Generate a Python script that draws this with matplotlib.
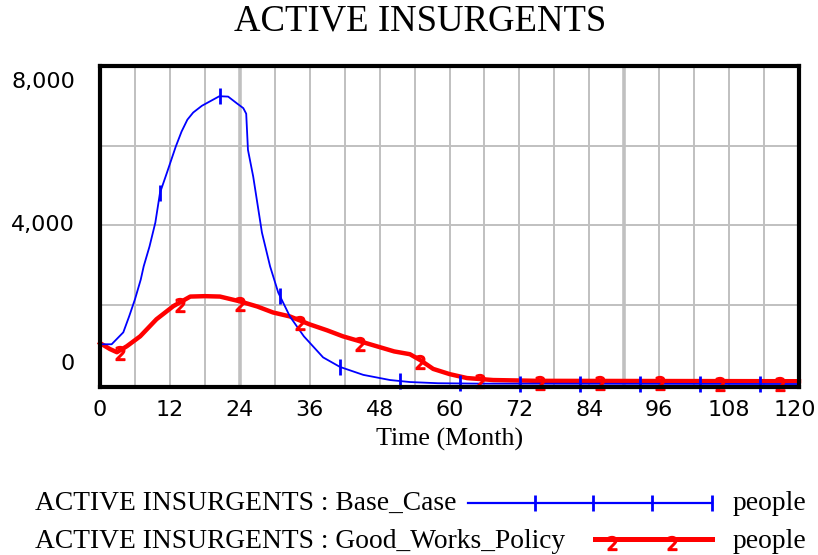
import numpy as np
import matplotlib.pyplot as plt
from matplotlib.lines import Line2D
from matplotlib.transforms import offset_copy, blended_transform_factory

# ACTIVE INSURGENTS : Base_Case (people)
t_base = [0, 2, 4, 5, 6, 7, 7.5, 8.5, 9.5, 10.3, 11.5, 13, 14, 15, 16, 17.5, 19,
          20.5, 22, 23.5, 24.6, 25.1, 25.4, 26.3, 27.8, 29.2, 30.6, 32.6, 35, 38.3,
          41.2, 45.2, 49.8, 53.2, 58, 65, 120]
v_base = [1000, 1000, 1300, 1700, 2130, 2630, 2960, 3460, 4060, 4810, 5320, 5970,
          6350, 6650, 6830, 7000, 7120, 7240, 7230, 7060, 6940, 6800, 5890, 5220,
          3810, 2960, 2300, 1700, 1200, 670, 430, 230, 100, 50, 20, 10, 0]

# ACTIVE INSURGENTS : Good_Works_Policy (people)
t_good = [0, 1.7, 2.9, 4.6, 6.9, 9.7, 12.6, 15.5, 18, 20.6, 24, 27, 29.7, 32.6,
          36, 39, 41.7, 44.5, 47.5, 50.5, 53.2, 55, 57.2, 60, 63, 67.5, 75, 120]
v_good = [1030, 880, 800, 950, 1200, 1630, 1960, 2200, 2210, 2200, 2080, 1950,
          1800, 1700, 1500, 1350, 1200, 1080, 950, 820, 750, 600, 380, 250, 150,
          100, 80, 70]

x_ticks = [0, 12, 24, 36, 48, 60, 72, 84, 96, 108, 120]
y_ticks = [0, 4000, 8000]
y_labels = ['0', '4,000', '8,000']

W, H = 818, 555
fig = plt.figure(figsize=(W / 100, H / 100), dpi=100)
ax = fig.add_axes([100 / W, (H - 387) / H, 699 / W, (387 - 66) / H])

blue = '#0000FF'
red = '#FF0000'
grey = '#C0C0C0'

ax.set_xlim(0, 120)
ax.set_ylim(-75, 8000)

# grid
for gx in np.arange(6, 120, 6):
    lw = 2.6 if gx in (24, 90) else 1.4
    ax.axvline(gx, color=grey, lw=lw, zorder=1)
for gy in [2000, 4000, 6000]:
    ax.axhline(gy, color=grey, lw=1.4, zorder=1)

ax.plot(t_base, v_base, color=blue, lw=1.3, zorder=3, clip_on=False)
ax.plot(t_good, v_good, color=red, lw=3.2, zorder=2, clip_on=False)

# series markers every ~10.3 months, as in the original
mk_b = np.arange(0, 120, 10.3)
ax.plot(mk_b, np.interp(mk_b, t_base, v_base), ls='none', marker='|', ms=12,
        mew=2, color=blue, zorder=4, clip_on=False)
mk_g = np.arange(3.4, 120, 10.3)
ax.plot(mk_g, np.interp(mk_g, t_good, v_good) - 60, ls='none', marker='$2$', ms=10,
        color=red, zorder=4, clip_on=False)

for s in ax.spines.values():
    s.set_linewidth(3)
    s.set_color('black')
    s.set_zorder(5)

ax.set_xticks(x_ticks)
ax.set_xticklabels([str(v) for v in x_ticks[:-1]] + [''], fontsize=16,
                   family='DejaVu Sans')
ax.tick_params(axis='x', length=0, pad=9)
ax.set_yticks([])

# last x label sits against the right edge of the picture
xt = blended_transform_factory(ax.transData, ax.transAxes)
ax.text(x_ticks[-1], 0, str(x_ticks[-1]), ha='right', va='top', fontsize=16,
        family='DejaVu Sans',
        transform=offset_copy(xt, fig=fig, x=17, y=-13, units='dots'))

trans = blended_transform_factory(ax.transAxes, ax.transData)
offs = {0: 10, 4000: 0, 8000: -6}
vas = {0: 'bottom', 4000: 'center', 8000: 'top'}
for val, lab in zip(y_ticks, y_labels):
    ax.text(0, val, lab, ha='right', va=vas[val], fontsize=16, family='DejaVu Sans',
            transform=offset_copy(trans, fig=fig, x=-25, y=offs[val], units='dots'))

ax.set_xlabel('Time (Month)', fontsize=18.7, family='Liberation Serif', labelpad=6)

fig.text(420 / W, 1 - 21 / H, 'ACTIVE INSURGENTS', ha='center', va='center',
         fontsize=26.5, family='Liberation Serif')

# legend
def fx(x):
    return x / W

def fy(y):
    return 1 - y / H

fs_leg = 19.8
fig.text(fx(35), fy(503), 'ACTIVE INSURGENTS : Base_Case', ha='left', va='center',
         fontsize=fs_leg, family='Liberation Serif')
fig.text(fx(35), fy(541), 'ACTIVE INSURGENTS : Good_Works_Policy', ha='left',
         va='center', fontsize=fs_leg, family='Liberation Serif')
fig.text(fx(733), fy(503), 'people', ha='left', va='center', fontsize=fs_leg,
         family='Liberation Serif')
fig.text(fx(733), fy(541), 'people', ha='left', va='center', fontsize=fs_leg,
         family='Liberation Serif')

fig.add_artist(Line2D([fx(468), fx(712)], [fy(503), fy(503)], color=blue, lw=1.6))
fig.add_artist(Line2D([fx(535), fx(593), fx(652), fx(712)], [fy(503)] * 4, ls='none',
                      marker='|', ms=12, mew=2, color=blue))
fig.add_artist(Line2D([fx(595), fx(712)], [fy(539), fy(539)], color=red, lw=3.6))
fig.add_artist(Line2D([fx(612), fx(672)], [fy(543)] * 2, ls='none', marker='$2$',
                      ms=10, color=red))

fig.savefig('out.png', dpi=100)
